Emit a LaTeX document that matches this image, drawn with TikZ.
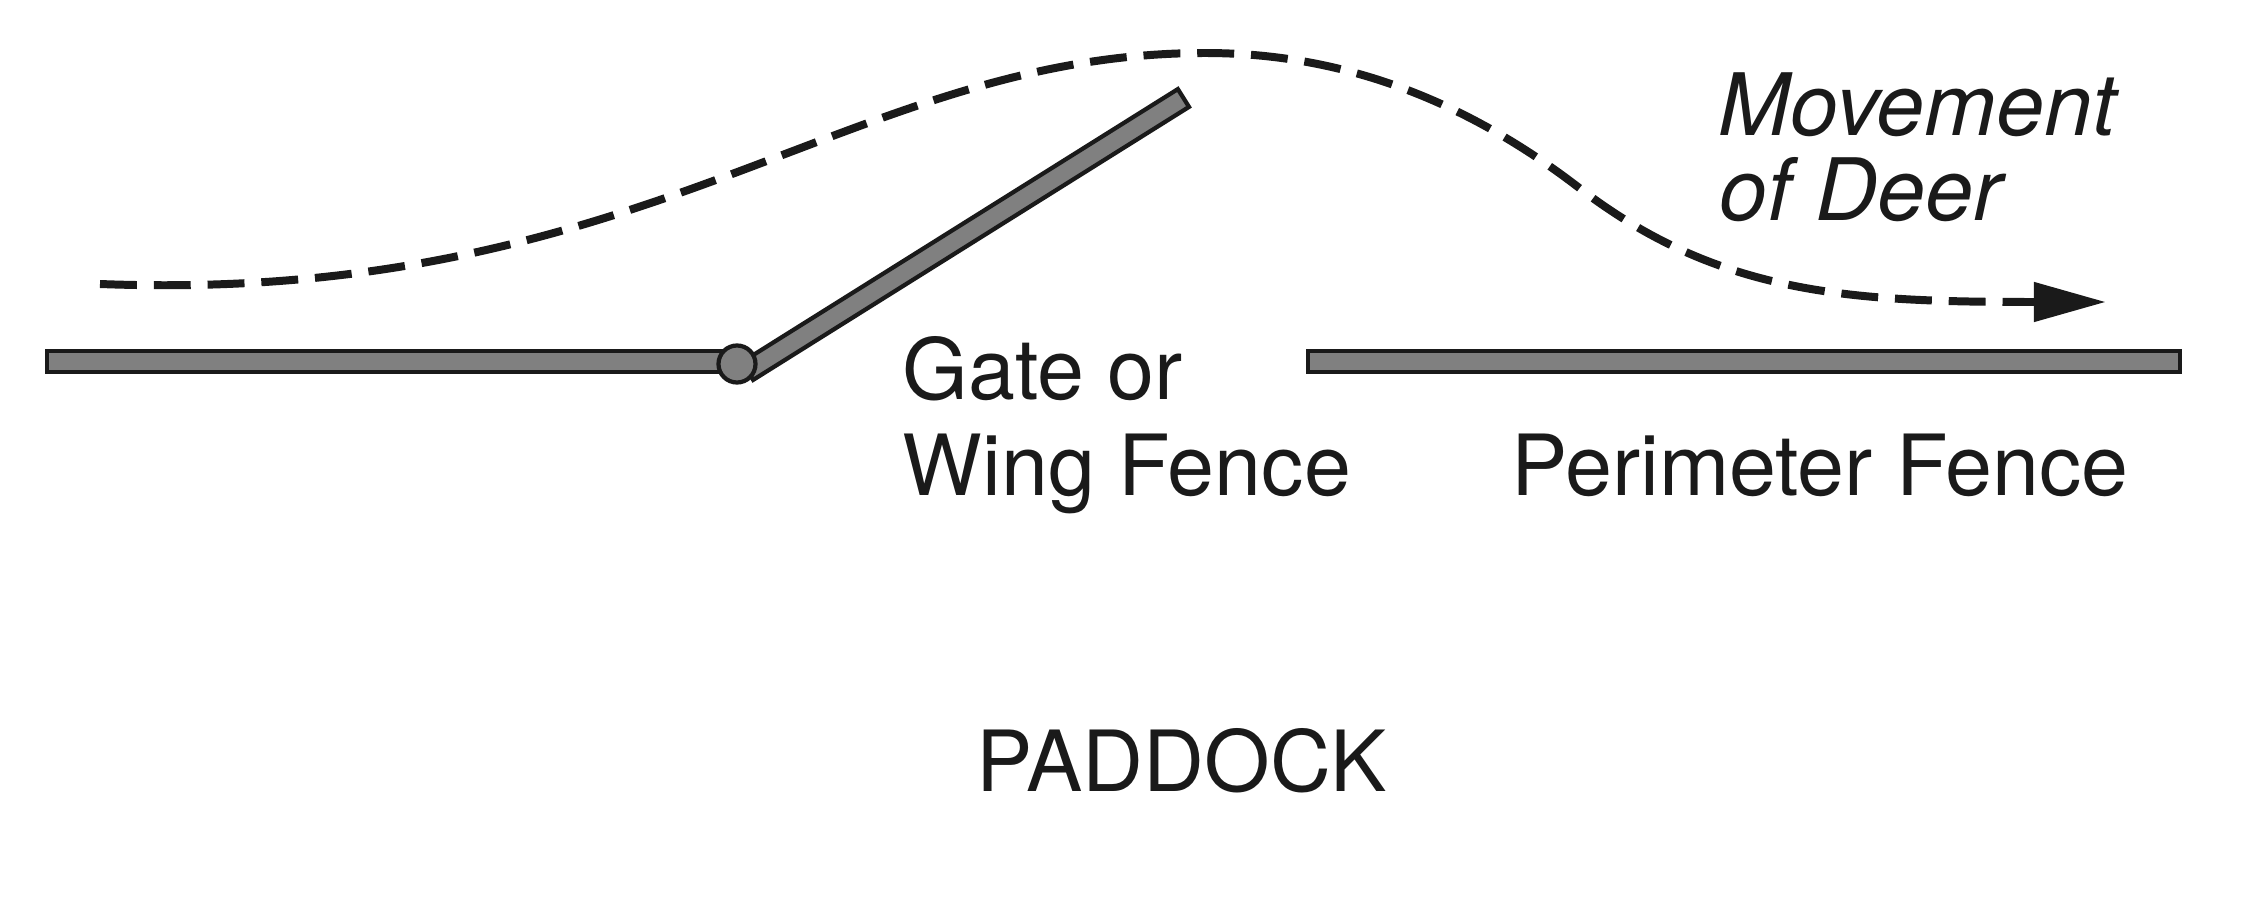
\documentclass[tikz,border=0pt]{standalone}
\usepackage{fontspec}
\setmainfont{TeX Gyre Heros}
\usetikzlibrary{arrows.meta}
\definecolor{ink}{HTML}{1A1A1A}
\definecolor{fencegray}{HTML}{808080}
\tikzset{
  fencebar/.style={draw=ink, fill=fencegray, line width=1.2pt},
  hingeknob/.style={circle, draw=ink, fill=fencegray, line width=1.2pt, minimum size=0.37cm, inner sep=0pt},
  deerpath/.style={draw=ink, line width=2.27pt, dash pattern=on 10.5pt off 4.8pt,
    -{Triangle[length=20.5pt,width=10.8pt]}},
  lbl/.style={text=ink, inner sep=0pt, anchor=base west, font=\fontsize{24}{28}\selectfont},
  ilbl/.style={lbl, font=\fontsize{24.5}{28}\selectfont\itshape},
}
\begin{document}
\begin{tikzpicture}[x=0.01cm, y=-0.01cm]
\useasboundingbox (0,0) rectangle (2250,900);
% fences
\draw[fencebar] (47,351) rectangle (745,372);
\draw[fencebar] (1308,351) rectangle (2180,372);
\node[fencebar, rectangle, rotate=32.06, minimum width=5.14cm, minimum height=0.21cm, inner sep=0pt] (gate) at (965.5,234.5) {};
\node[hingeknob] (hinge) at (737,364) {};
% deer movement
\coordinate (dstart) at (100,284);
\coordinate (dpeak) at (1205,53);
\coordinate (dmid) at (1578,187);
\coordinate (dend) at (2106,302);
\draw[deerpath] (dstart) .. controls (650,305) and (850,53) .. (dpeak)
  .. controls (1335,53) and (1458,95) .. (dmid)
  .. controls (1718,295) and (1850,302) .. (dend);
% labels
\node[lbl] (gate1) at (902,399) {Gate or};
\node[lbl] (gate2) at (902,495) {Wing Fence};
\node[lbl] (perim) at (1511,495) {Perimeter Fence};
\node[ilbl] (move1) at (1718,135) {Movement};
\node[ilbl] (move2) at (1719,220) {of Deer};
\node[lbl] (padd) at (976,791) {PADDOCK};
\end{tikzpicture}
\end{document}
